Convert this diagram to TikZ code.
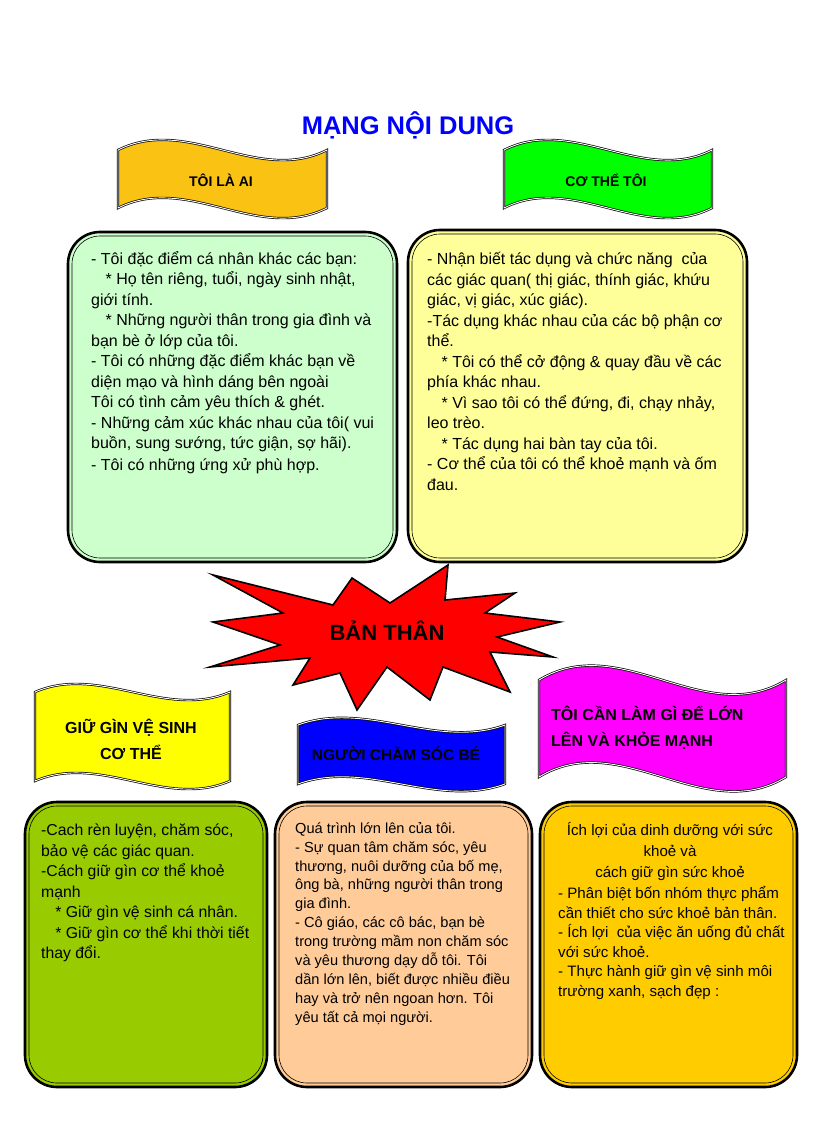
\documentclass[tikz,border=0pt]{standalone}
\usepackage{fontspec}
\setmainfont{Liberation Sans}
\usetikzlibrary{positioning}

\definecolor{camco}{RGB}{250,195,20}
\definecolor{xanhla}{RGB}{0,255,0}
\definecolor{xanhnhat}{RGB}{204,255,204}
\definecolor{vangnhat}{RGB}{255,255,153}
\definecolor{vangchanh}{RGB}{255,255,0}
\definecolor{xanhduong}{RGB}{0,0,255}
\definecolor{hongtim}{RGB}{255,0,255}
\definecolor{xanhreu}{RGB}{153,204,0}
\definecolor{damao}{RGB}{255,204,153}
\definecolor{vangdam}{RGB}{255,204,0}

\begin{document}
\begin{tikzpicture}[x=1pt,y=-1pt,
  panel/.style={draw=black, line width=2.6pt, rounded corners=32pt},
  panelin/.style={draw=black, line width=0.6pt, rounded corners=28pt},
  flag/.style={draw=black, line width=0.7pt, double=white, double distance=0.9pt},
  body/.style={anchor=north west, align=left, inner sep=0pt,
    execute at begin node={\rule{0pt}{15pt}}},
  head/.style={align=center, inner sep=0pt, font=\fontsize{14}{26}\selectfont\bfseries},
  headlow/.style={head, font=\fontsize{16}{26}\selectfont\bfseries}
]

% Page
\fill[white] (0,0) rectangle (816,1123);
\useasboundingbox (0,0) rectangle (816,1123);

% Title
\node[font=\fontsize{25.5}{28}\selectfont\bfseries, text=xanhduong] (tieude) at (408,125) {MẠNG NỘI DUNG};

% Top banners
\draw[flag, fill=camco] (118,150) .. controls (187.7,115) and (257.3,185) .. (327,150) -- (327,208)
  .. controls (257.3,243) and (187.7,173) .. (118,208) -- cycle;
\node[head] (toilaai) at (221,180) {TÔI LÀ AI};

\draw[flag, fill=xanhla] (504,150) .. controls (573.3,115) and (642.7,185) .. (712,150) -- (712,208)
  .. controls (642.7,243) and (573.3,173) .. (504,208) -- cycle;
\node[head] (cothetoi) at (606,180) {CƠ THỂ TÔI};

% Top panels
\draw[panel, fill=xanhnhat] (68,232) rectangle (397,562);
\draw[panelin] (72,236) rectangle (393,558);
\node[body, font=\fontsize{16}{20.5}\selectfont] (noidungai) at (91,251) {- Tôi đặc điểm cá nhân khác các bạn:\\
\hspace*{0.9em}* Họ tên riêng, tuổi, ngày sinh nhật,\\
giới tính.\\
\hspace*{0.9em}* Những người thân trong gia đình và\\
bạn bè ở lớp của tôi.\\
- Tôi có những đặc điểm khác bạn về\\
diện mạo và hình dáng bên ngoài\\
Tôi có tình cảm yêu thích \& ghét.\\
- Những cảm xúc khác nhau của tôi( vui\\
buồn, sung sướng, tức giận, sợ hãi).\\[1.5pt]
- Tôi có những ứng xử phù hợp.};

\draw[panel, fill=vangnhat] (408,230) rectangle (747,562);
\draw[panelin] (412,234) rectangle (743,558);
\node[body, font=\fontsize{16}{20.5}\selectfont] (noidungcothe) at (427,252) {- Nhận biết tác dụng và chức năng\ \ của\\
các giác quan( thị giác, thính giác, khứu\\
giác, vị giác, xúc giác).\\
-Tác dụng khác nhau của các bộ phận cơ\\
thể.\\
\hspace*{0.9em}* Tôi có thể cở động \& quay đầu về các\\
phía khác nhau.\\
\hspace*{0.9em}* Vì sao tôi có thể đứng, đi, chạy nhảy,\\
leo trèo.\\
\hspace*{0.9em}* Tác dụng hai bàn tay của tôi.\\
- Cơ thể của tôi có thể khoẻ mạnh và ốm\\
đau.};

% Center star
\draw[fill=red, line width=1.6pt, line join=miter]
  (213,575) -- (333,605) -- (352,578) -- (390,603) -- (448,565) -- (445,600)
  -- (515,593) -- (485,613) -- (560,622) -- (497,637) -- (553,657) -- (490,652)
  -- (510,692) -- (443,667) -- (430,700) -- (387,667) -- (357,710) -- (340,673)
  -- (293,685) -- (310,658) -- (210,667) -- (280,645) -- (213,622) -- (283,613) -- cycle;
\node[font=\fontsize{22}{26}\selectfont\bfseries] (banthan) at (387,631) {BẢN THÂN};

% Bottom banners
\draw[flag, fill=vangchanh] (35,692) .. controls (100,664) and (165,720) .. (230,692) -- (230,781)
  .. controls (165,809) and (100,753) .. (35,781) -- cycle;
\node[headlow] (giugin) at (131,739) {GIỮ GÌN VỆ SINH\\CƠ THỂ};

\draw[flag, fill=xanhduong] (298,725) .. controls (367,700) and (436,750) .. (505,725) -- (505,784)
  .. controls (436,809) and (367,759) .. (298,784) -- cycle;
\node[headlow, font=\fontsize{15.5}{26}\selectfont\bfseries] (nguoichamsoc) at (396,754) {NGƯỜI CHĂM SÓC BÉ};

\draw[flag, fill=hongtim] (539,680) .. controls (621.3,630) and (703.7,730) .. (786,680) -- (786,777)
  .. controls (703.7,827) and (621.3,727) .. (539,777) -- cycle;
\node[headlow, anchor=west, align=left, font=\fontsize{16}{25.5}\selectfont\bfseries] (toicanlam) at (551,728) {TÔI CẦN LÀM GÌ ĐỂ LỚN\\LÊN VÀ KHỎE MẠNH};

% Bottom panels
\draw[panel, fill=xanhreu] (25,802) rectangle (267,1087);
\draw[panelin] (29,806) rectangle (263,1083);
\node[body, font=\fontsize{15.8}{20.5}\selectfont] (noidunggiugin) at (41,824) {-Cach rèn luyện, chăm sóc,\\
bảo vệ các giác quan.\\
-Cách giữ gìn cơ thể khoẻ\\
mạnh\\
\hspace*{0.9em}* Giữ gìn vệ sinh cá nhân.\\
\hspace*{0.9em}* Giữ gìn cơ thể khi thời tiết\\
thay đổi.};

\draw[panel, fill=damao] (275,802) rectangle (532,1087);
\draw[panelin] (279,806) rectangle (528,1083);
\node[body, font=\fontsize{14.6}{18.9}\selectfont] (noidungchamsoc) at (295,822) {Quá trình lớn lên của tôi.\\
- Sự quan tâm chăm sóc, yêu\\
thương, nuôi dưỡng của bố mẹ,\\
ông bà, những người thân trong\\
gia đình.\\
- Cô giáo, các cô bác, bạn bè\\
trong trường mầm non chăm sóc\\
và yêu thương dạy dỗ tôi. Tôi\\
dần lớn lên, biết được nhiều điều\\
hay và trở nên ngoan hơn. Tôi\\
yêu tất cả mọi người.};

\draw[panel, fill=vangdam] (540,802) rectangle (797,1087);
\draw[panelin] (544,806) rectangle (793,1083);
\node[body, anchor=north, align=center, font=\fontsize{15.1}{21}\selectfont] (ichloi) at (670,822) {Ích lợi của dinh dưỡng với sức\\
khoẻ và\\
cách giữ gìn sức khoẻ};
\node[body, font=\fontsize{15.1}{19.6}\selectfont] (noidungichloi) at (558,886) {- Phân biệt bốn nhóm thực phẩm\\
cần thiết cho sức khoẻ bản thân.\\
- Ích lợi\ \ của việc ăn uống đủ chất\\
với sức khoẻ.\\
- Thực hành giữ gìn vệ sinh môi\\
trường xanh, sạch đẹp :};

\end{tikzpicture}
\end{document}
